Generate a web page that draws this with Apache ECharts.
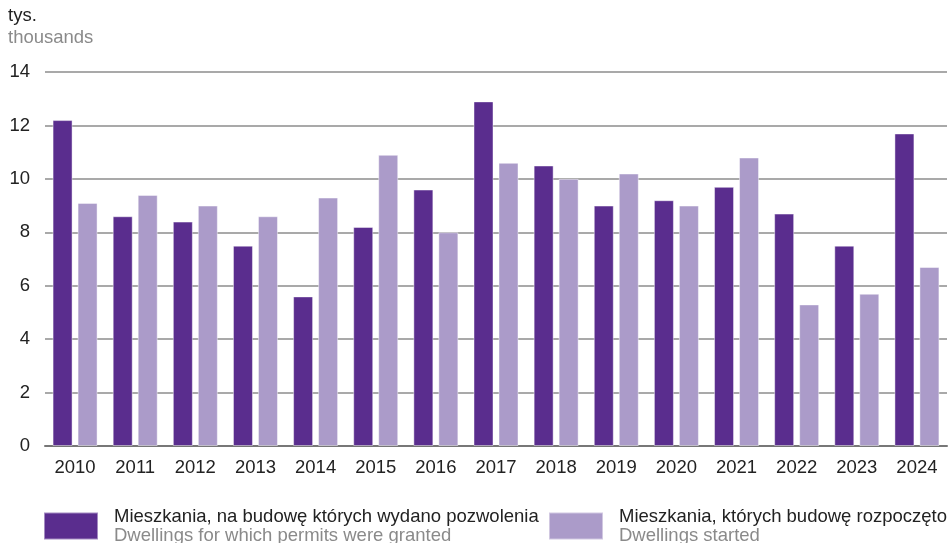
<!DOCTYPE html>
<html>
<head>
<meta charset="utf-8">
<script src="https://cdn.jsdelivr.net/npm/echarts@6/dist/echarts.min.js"></script>
<style>
  html, body { margin: 0; padding: 0; background: #fff; }
  #chart { width: 951px; height: 543px; }
</style>
</head>
<body>
<div id="chart"></div>
<script>
// dane - tys. mieszkań
const years = ['2010','2011','2012','2013','2014','2015','2016','2017','2018','2019','2020','2021','2022','2023','2024']
const permits = [12.2, 8.6, 8.4, 7.5, 5.6, 8.2, 9.6, 12.9, 10.5, 9.0, 9.2, 9.7, 8.7, 7.5, 11.7]
const started = [9.1, 9.4, 9.0, 8.6, 9.3, 10.9, 8.0, 10.6, 10.0, 10.2, 9.0, 10.8, 5.3, 5.7, 6.7]
const namePermits = 'Mieszkania, na budowę których wydano pozwolenia'
const namePermitsEn = 'Dwellings for which permits were granted'
const nameStarted = 'Mieszkania, których budowę rozpoczęto'
const nameStartedEn = 'Dwellings started'

const DARK = '#5a2d8e'
const LIGHT = '#ab9bc9'
const FONT = 'Liberation Sans, Arial, sans-serif'
const FS = 18.5

const chart = echarts.init(document.getElementById('chart'))

function legendFor (name, en, left) {
  return {
    left: left,
    top: 502,
    itemWidth: 54,
    itemHeight: 27,
    icon: 'rect',
    selectedMode: false,
    data: [name],
    formatter: function (n) { return '{a|' + n + '}\n{b|' + en + '}' },
    textStyle: {
      rich: {
        a: { fontSize: FS, color: '#222', fontFamily: FONT, lineHeight: 19, padding: [0, 0, 0, 11] },
        b: { fontSize: FS, color: '#8a8a8a', fontFamily: FONT, lineHeight: 19, padding: [0, 0, 0, 11] }
      }
    }
  }
}

chart.setOption({
  animation: false,
  textStyle: { fontFamily: FONT },
  title: [
    { text: 'tys.', left: 3, top: 1, textStyle: { fontSize: FS, fontWeight: 'normal', color: '#222', fontFamily: FONT } },
    { text: 'thousands', left: 3, top: 23, textStyle: { fontSize: FS, fontWeight: 'normal', color: '#8a8a8a', fontFamily: FONT } }
  ],
  legend: [
    legendFor(namePermits, namePermitsEn, 38),
    legendFor(nameStarted, nameStartedEn, 543)
  ],
  grid: { left: 45, right: 4, top: 72, bottom: 97 },
  xAxis: {
    type: 'category',
    data: years,
    axisTick: { show: false },
    axisLine: { lineStyle: { color: '#777', width: 2 } },
    axisLabel: { color: '#222', fontSize: FS, margin: 12 }
  },
  yAxis: {
    type: 'value',
    min: 0,
    max: 14,
    interval: 2,
    axisLine: { show: false },
    axisTick: { show: false },
    axisLabel: { color: '#222', fontSize: FS, margin: 15 },
    splitLine: { lineStyle: { color: '#8c8c8c', width: 1.5 } }
  },
  series: [
    {
      name: namePermits,
      type: 'bar',
      data: permits,
      barWidth: 20,
      barGap: '25%',
      itemStyle: { color: DARK, borderColor: 'rgba(255,255,255,0.45)', borderWidth: 1 }
    },
    {
      name: nameStarted,
      type: 'bar',
      data: started,
      barWidth: 20,
      itemStyle: { color: LIGHT, borderColor: 'rgba(255,255,255,0.45)', borderWidth: 1 }
    }
  ]
})
</script>
</body>
</html>
